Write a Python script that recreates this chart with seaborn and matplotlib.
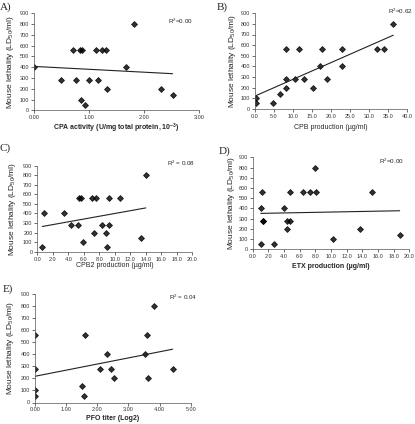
import numpy as np
import pandas as pd
import matplotlib
matplotlib.use("Agg")
import matplotlib.pyplot as plt
import seaborn as sns

# ---- data ----
cpa_x = [0.00, 0.49, 0.76, 1.00, 1.16, 0.70, 0.84, 0.87, 1.13, 1.23, 1.30, 0.85, 0.93, 1.33, 1.67, 1.82, 2.30, 2.52]
cpa_y = [400, 280, 280, 280, 280, 560, 560, 560, 560, 560, 560, 100, 50, 200, 400, 800, 200, 140]

cpb_x = [0.26, 0.26, 4.8, 6.5, 8.1, 8.1, 8.1, 10.4, 11.6, 13.0, 15.3, 17.2, 17.7, 19.0, 22.9, 22.9, 32.1, 33.9, 36.4]
cpb_y = [100, 50, 50, 140, 200, 280, 560, 280, 560, 280, 200, 400, 560, 280, 400, 560, 560, 560, 800]

cpb2_x = [0.64, 0.86, 3.4, 4.4, 5.3, 5.4, 5.7, 5.9, 7.0, 7.3, 7.6, 8.4, 8.9, 9.0, 9.2, 9.3, 10.7, 13.4, 14.0]
cpb2_y = [50, 400, 400, 280, 280, 560, 560, 100, 560, 200, 560, 280, 200, 50, 560, 280, 560, 140, 800]

etx_x = [1.02, 1.06, 1.23, 1.28, 1.36, 2.72, 3.96, 4.34, 4.38, 4.77, 4.72, 6.47, 7.36, 8.0, 8.09, 10.26, 13.7, 15.3, 18.77]
etx_y = [50, 400, 560, 280, 280, 50, 400, 280, 200, 280, 560, 560, 560, 800, 560, 100, 200, 560, 140]

pfo_x = [0.0, 0.0, 0.0, 0.0, 1.53, 1.57, 1.61, 2.08, 2.32, 2.44, 2.53, 3.53, 3.61, 3.62, 3.81, 4.42]
pfo_y = [560, 280, 100, 50, 140, 50, 560, 280, 400, 280, 200, 400, 560, 200, 800, 280]

panel_letters = ["A)", "B)", "C)", "D)", "E)"]
y_label = "Mouse lethality (LD$_{50}$/ml)"
x_labels = ["CPA activity (U/mg total protein, 10$^{-3}$)",
            "CPB production (µg/ml)",
            "CPB2 production (µg/ml)",
            "ETX production (µg/ml)",
            "PFO titer (Log2)"]
r2_texts = ["R$^2$=0.00", "R$^2$=0.62", "R$^2$ = 0.08", "R$^2$=0.00", "R$^2$ = 0.04"]
x_ticks = [[0, 1, 2, 3], list(range(0, 41, 5)), list(range(0, 21, 2)),
           list(range(0, 21, 2)), [0, 1, 2, 3, 4, 5]]
x_fmt = ["{:.2f}", "{:.1f}", "{:.1f}", "{:.1f}", "{:.2f}"]
y_ticks = list(range(0, 901, 100))

sns.set_style("ticks")
plt.rcParams['font.family'] = ['Liberation Sans', 'DejaVu Sans']
plt.rcParams['mathtext.fontset'] = 'custom'
plt.rcParams['mathtext.rm'] = 'Liberation Sans'
plt.rcParams['mathtext.it'] = 'Liberation Sans:italic'
plt.rcParams['mathtext.bf'] = 'Liberation Sans:bold'
plt.rcParams['mathtext.default'] = 'regular'

W, H = 415, 424
fig = plt.figure(figsize=(W / 100, H / 100), dpi=100)
fig.patch.set_facecolor("white")

def fr(left, right, top, bottom):
    return [left / W, 1 - bottom / H, (right - left) / W, (bottom - top) / H]

rects = [fr(34, 199, 13.3, 110.3),
         fr(255, 407, 13.3, 108.7),
         fr(37.3, 192.3, 165.7, 251.7),
         fr(252.7, 409.3, 157.3, 249.3),
         fr(34.7, 190.7, 293.7, 402.5)]

datasets = [(cpa_x, cpa_y), (cpb_x, cpb_y), (cpb2_x, cpb2_y), (etx_x, etx_y), (pfo_x, pfo_y)]
bold_x = [True, False, False, True, True]
label_pads = [1.0, 3.9, 0.0, 2.5, 1.8]
letter_pos = [(0, 2), (217, 2), (0, 143), (219, 146), (3, 284)]
ylab_x = [10, 232, 12, 231, 11]
r2_pos = [(193, 21), (413, 11), (195, 163), (404, 161), (197, 297)]

for i, (rect, (xs, ys)) in enumerate(zip(rects, datasets)):
    ax = fig.add_axes(rect)
    df = pd.DataFrame({"x": xs, "y": ys})
    sns.regplot(data=df, x="x", y="y", ax=ax, ci=None, truncate=True,
                marker="D", color="black",
                scatter_kws={"s": 9, "linewidths": 0.6, "edgecolors": "black"},
                line_kws={"linewidth": 0.8, "color": "#222222"})
    ax.set_xlim(x_ticks[i][0], x_ticks[i][-1])
    ax.set_ylim(0, 900)
    ax.set_xticks(x_ticks[i])
    ax.set_xticklabels([x_fmt[i].format(t) for t in x_ticks[i]], fontsize=4)
    ax.set_yticks(y_ticks)
    ax.set_yticklabels([str(t) for t in y_ticks], fontsize=4)
    ax.tick_params(length=2, width=0.5, pad=1.5, colors="#333333")
    for s in ["top", "right"]:
        ax.spines[s].set_visible(False)
    for s in ["left", "bottom"]:
        ax.spines[s].set_linewidth(0.5)
        ax.spines[s].set_color("#555555")
    ax.set_xlabel(x_labels[i], fontsize=5, fontweight="bold" if bold_x[i] else "normal",
                  labelpad=label_pads[i])
    ax.set_ylabel("")
    ax.set_facecolor("white")
    cy = (rect[1] + rect[3] / 2)
    fig.text(ylab_x[i] / W, cy, y_label, rotation=90,
             fontsize=6, ha="center", va="center")
    fig.text(letter_pos[i][0] / W, 1 - letter_pos[i][1] / H, panel_letters[i],
             family="Liberation Serif", fontsize=8, ha="left", va="top")
    fig.text(r2_pos[i][0] / W, 1 - r2_pos[i][1] / H, r2_texts[i],
             fontsize=4.5, ha="right", va="center")

fig.savefig("out.png", dpi=100, facecolor="white")
